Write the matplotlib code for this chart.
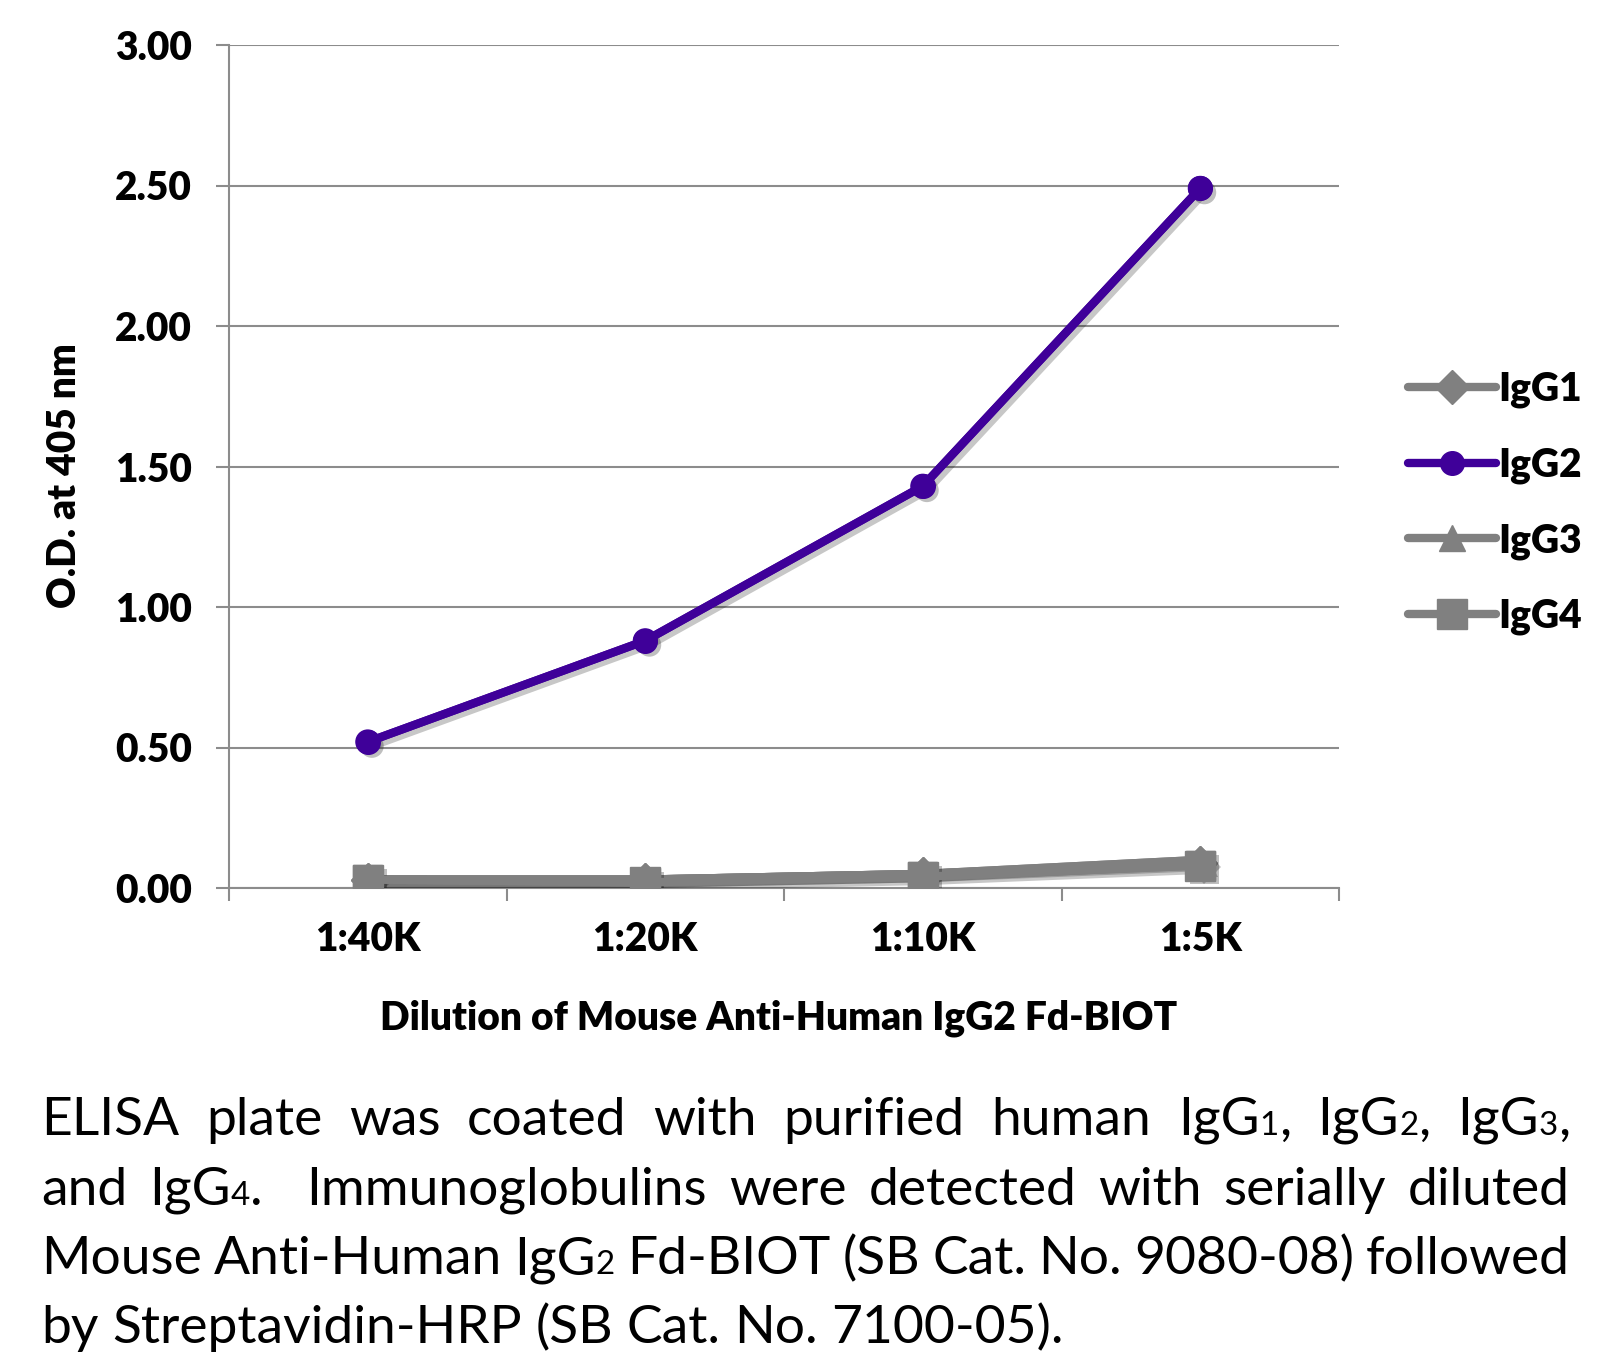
import re
import numpy as np
import matplotlib
matplotlib.use("Agg")
import matplotlib.pyplot as plt
import matplotlib.patheffects as pe
from matplotlib import font_manager as fm

W, H = 1617, 1357

# data
dilutions = ["1:40K", "1:20K", "1:10K", "1:5K"]
igg1 = [0.03, 0.03, 0.05, 0.09]
igg2 = [0.52, 0.88, 1.43, 2.49]
igg3 = [0.03, 0.03, 0.05, 0.10]
igg4 = [0.03, 0.02, 0.04, 0.08]
series_names = ["IgG1", "IgG2", "IgG3", "IgG4"]
y_ticks = [0.0, 0.5, 1.0, 1.5, 2.0, 2.5, 3.0]

caption = [
    "ELISA plate was coated with purified human IgG_1, IgG_2, IgG_3,",
    "and IgG_4.  Immunoglobulins were detected with serially diluted",
    "Mouse Anti-Human IgG_2 Fd-BIOT (SB Cat. No. 9080-08) followed",
    "by Streptavidin-HRP (SB Cat. No. 7100-05).",
]

GRAY = "#808080"
PURPLE = "#3f0099"
AXCOL = "#8c8c8c"


def installed(name):
    try:
        fm.findfont(fm.FontProperties(family=name), fallback_to_default=False)
        return True
    except ValueError:
        return False


cap_family = "Liberation Sans Narrow" if installed("Liberation Sans Narrow") else "Lato"
plt.rcParams["font.family"] = ["Lato", "DejaVu Sans"]
LBL = 28
WT = "heavy"

fig = plt.figure(figsize=(W / 100, H / 100), dpi=100)
fig.patch.set_facecolor("white")
ax = fig.add_axes([229 / W, 1 - 888 / H, 1110 / W, 843 / H])

x = np.arange(len(dilutions))
line_shadow = [pe.SimpleLineShadow(offset=(3, -3), shadow_color="k", alpha=0.22), pe.Normal()]
mark_shadow = [pe.SimplePatchShadow(offset=(3, -3), shadow_rgbFace="k", alpha=0.25), pe.Normal()]
styles = [(igg1, GRAY, "D", 17), (igg2, PURPLE, "o", 17), (igg3, GRAY, "^", 19), (igg4, GRAY, "s", 21)]
for name, (vals, c, m, ms) in zip(series_names, styles):
    ax.plot(x, vals, color=c, lw=6, solid_capstyle="round", path_effects=line_shadow, zorder=3)
    ax.plot(x, vals, ls="none", marker=m, ms=ms, color=c, mec=c, path_effects=mark_shadow, zorder=3)
    ax.plot(x, vals, color=c, lw=6, marker=m, ms=ms, mec=c, solid_capstyle="round",
            label=name, zorder=3)

ax.set_xlim(-0.5, 3.5)
ax.set_ylim(0, 3)
ax.set_xticks(np.arange(-0.5, 4, 1))
ax.set_xticklabels([])
ax.set_xticks(x, minor=True)
ax.set_xticklabels(dilutions, minor=True, fontsize=LBL, fontweight=WT)
ax.tick_params(axis="x", which="major", length=9.5, width=1.5, color=AXCOL)
ax.tick_params(axis="x", which="minor", length=0, pad=24)
ax.set_yticks(y_ticks)
ax.set_yticklabels([f"{v:.2f}" for v in y_ticks], fontsize=LBL, fontweight=WT)
ax.tick_params(axis="y", length=9.5, width=1.5, color=AXCOL, pad=17)
ax.yaxis.grid(True, color=AXCOL, lw=1.5)
ax.set_axisbelow(True)
for s in ["top", "right"]:
    ax.spines[s].set_visible(False)
for s in ["left", "bottom"]:
    ax.spines[s].set_color(AXCOL)
    ax.spines[s].set_linewidth(1.5)

fig.text(64 / W, 1 - 476 / H, "O.D. at 405 nm", rotation=90, fontsize=LBL,
         fontweight=WT, ha="center", va="center")
fig.text(779 / W, 1 - 1018 / H, "Dilution of Mouse Anti-Human IgG2 Fd-BIOT",
         fontsize=LBL, fontweight=WT, ha="center", va="center")

fig.legend(loc="center left", bbox_to_anchor=(1408 / W, 1 - 503 / H), frameon=False,
           prop={"size": LBL, "weight": WT}, handlelength=2.26, handletextpad=0.05,
           labelspacing=0.98, borderpad=0, borderaxespad=0)

# caption, justified like the reference
renderer = fig.canvas.get_renderer()
left, right = 41, 1570
baselines = [1135, 1205, 1274, 1343]
cap_size = 42


def width(t):
    return t.get_window_extent(renderer).width


def space_width(size):
    a = fig.text(0, 0, "x x", fontsize=size, family=cap_family)
    b = fig.text(0, 0, "xx", fontsize=size, family=cap_family)
    w = width(a) - width(b)
    a.remove()
    b.remove()
    return w


lines = []
for line, yb in zip(caption, baselines):
    tokens = re.split(r"( +)", line)
    words = tokens[0::2]
    gaps = [len(g) for g in tokens[1::2]]
    word_parts = []
    for w in words:
        pieces = re.split(r"_(\d)", w)
        parts = []
        for i, p in enumerate(pieces):
            if not p:
                continue
            fs = cap_size * (0.62 if i % 2 else 1.0)
            parts.append(fig.text(0, 1 - yb / H, p, fontsize=fs, family=cap_family,
                                  ha="left", va="baseline"))
        word_parts.append(parts)
    lines.append((word_parts, gaps))

sw = space_width(cap_size)
need = 0
for word_parts, gaps in lines[:3]:
    tot = sum(width(t) for parts in word_parts for t in parts)
    need = max(need, tot + sum(gaps) * sw * 0.85)
factor = min(1.0, (right - left) / need)
if factor < 1:
    for word_parts, _ in lines:
        for parts in word_parts:
            for t in parts:
                t.set_fontsize(t.get_fontsize() * factor)
sw = space_width(cap_size * factor)

for k, (word_parts, gaps) in enumerate(lines):
    widths = [[width(t) for t in parts] for parts in word_parts]
    tot = sum(sum(ws) for ws in widths)
    unit = (right - left - tot) / sum(gaps) if k < 3 else sw
    xp = left
    for parts, ws, g in zip(word_parts, widths, gaps + [0]):
        for t, w in zip(parts, ws):
            t.set_x(xp / W)
            xp += w
        xp += g * unit

fig.savefig("out.png", dpi=100, facecolor="white")
